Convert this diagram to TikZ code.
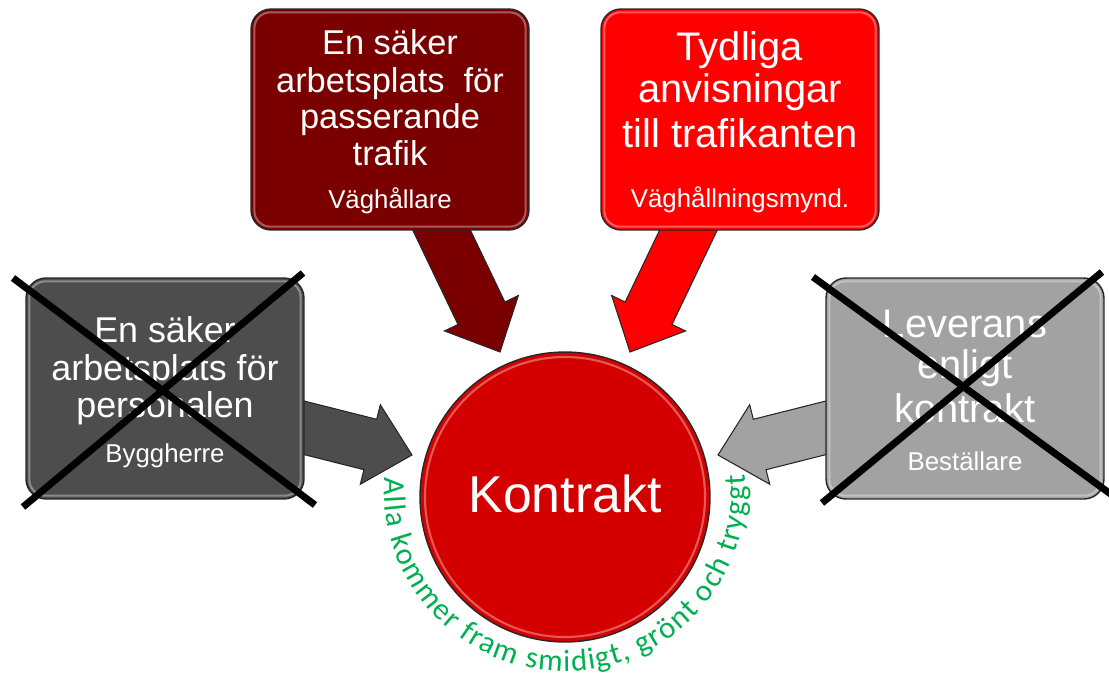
\documentclass[tikz,border=0pt]{standalone}
\usepackage{fontspec}
\setmainfont{Liberation Sans}
\newfontfamily\arcfont{Carlito}
\usetikzlibrary{calc,decorations.text}
\definecolor{dred}{RGB}{122,0,0}
\definecolor{bred}{RGB}{255,0,0}
\definecolor{cred}{RGB}{212,0,0}
\definecolor{dgray}{RGB}{77,77,77}
\definecolor{lgray}{RGB}{162,162,162}
\definecolor{grn}{RGB}{0,176,80}
\newcommand\fs[1]{\fontsize{#1}{#1}\selectfont}
\newcommand\blockarr[4]{%
  \coordinate (#4b) at ($(#3)!0.86cm!(#2)$);
  \draw[#1] ($(#2)!0.52cm!90:(#3)$) -- ($(#4b)!0.52cm!-90:(#2)$) -- ($(#4b)!0.82cm!-90:(#2)$) -- (#3) -- ($(#4b)!0.82cm!90:(#2)$) -- ($(#4b)!0.52cm!90:(#2)$) -- ($(#2)!0.52cm!-90:(#3)$) -- cycle;
}
\newcommand\gloss[1]{%
  \draw[white, opacity=0.35, line width=1.2pt, rounded corners=0.32cm] ($(#1.south west)+(4,4)$) rectangle ($(#1.north east)-(4,4)$);
}
\begin{document}
\begin{tikzpicture}[x=0.02cm, y=0.02cm,
  box/.style={draw=black!85, line width=0.8pt, rounded corners=0.4cm, minimum width=5.56cm, minimum height=4.42cm, inner sep=0pt},
  arr/.style={draw=black!85, line width=0.6pt, line join=miter},
  txt/.style={anchor=base, text=white, inner sep=0pt},
  cross/.style={line width=4pt, black}]
\useasboundingbox (0,0) rectangle (1109,681);
\clip (0,0) rectangle (1109,681);
% arrow end points
\coordinate (tlS) at (425.6,484.2);
\coordinate (tlT) at (500,329);
\coordinate (trS) at (704.4,484.2);
\coordinate (trT) at (630,329);
\coordinate (lS) at (264,263.3);
\coordinate (lT) at (412,226);
\coordinate (rS) at (866,263.3);
\coordinate (rT) at (718,226);
% arrows
\blockarr{arr, fill=dred}{tlS}{tlT}{tla}
\blockarr{arr, fill=bred}{trS}{trT}{tra}
\blockarr{arr, fill=dgray}{lS}{lT}{la}
\blockarr{arr, fill=lgray}{rS}{rT}{ra}
% boxes
\node[box, fill=dred] (tl) at (390,561.5) {};
\node[box, fill=bred] (tr) at (740,561.5) {};
\node[box, fill=dgray] (l) at (165,292.5) {};
\node[box, fill=lgray] (r) at (965,292.5) {};
\gloss{tl}\gloss{tr}\gloss{l}\gloss{r}
% circle
\node[circle, draw=black!85, line width=0.8pt, fill=cred, minimum size=5.8cm, inner sep=0pt] (k) at (565,184) {};
\draw[white, opacity=0.35, line width=1.2pt] (k.center) circle (140);
% texts top-left
\node[txt, font=\fs{19.6}] (tl1) at (390,626) {En säker};
\node[txt, font=\fs{19.6}] (tl2) at (390,589) {arbetsplats\ \ för};
\node[txt, font=\fs{19.6}] (tl3) at (390,553) {passerande};
\node[txt, font=\fs{19.6}] (tl4) at (390,516) {trafik};
\node[txt, font=\fs{14.7}] (tl5) at (390,473) {Väghållare};
% texts top-right
\node[txt, font=\fs{22.7}] (tr1) at (740,621) {Tydliga};
\node[txt, font=\fs{22.7}] (tr2) at (740,579) {anvisningar};
\node[txt, font=\fs{22.7}] (tr3) at (740,534) {till trafikanten};
\node[txt, font=\fs{14.7}] (tr4) at (740,474) {Väghållningsmynd.};
% texts left
\node[txt, font=\fs{20.4}] (l1) at (165,339) {En säker};
\node[txt, font=\fs{20.4}] (l2) at (165,301) {arbetsplats för};
\node[txt, font=\fs{20.4}] (l3) at (165,264) {personalen};
\node[txt, font=\fs{14.7}] (l4) at (165,219) {Byggherre};
% texts right
\node[txt, font=\fs{22.7}] (r1) at (965,344) {Leverans};
\node[txt, font=\fs{22.7}] (r2) at (965,303) {enligt};
\node[txt, font=\fs{22.7}] (r3) at (965,259) {kontrakt};
\node[txt, font=\fs{14.7}] (r4) at (965,211) {Beställare};
% centre text
\node[txt, font=\fs{29.5}] (kt) at (565,169) {Kontrakt};
% crosses
\draw[cross] (13,403) -- (315,176);
\draw[cross] (303,408) -- (23,174);
\draw[cross] (813,404) -- (1112,186);
\draw[cross] (1102,409) -- (822,178);
% curved text
\path[decorate, decoration={text along path, text align={fit to path},
  text color=grn, text={|\arcfont\fs{17.5}|Alla kommer fram smidigt, grönt och tryggt}}]
  (565,191) ++(176:181) arc (176:365:181);
\end{tikzpicture}
\end{document}
